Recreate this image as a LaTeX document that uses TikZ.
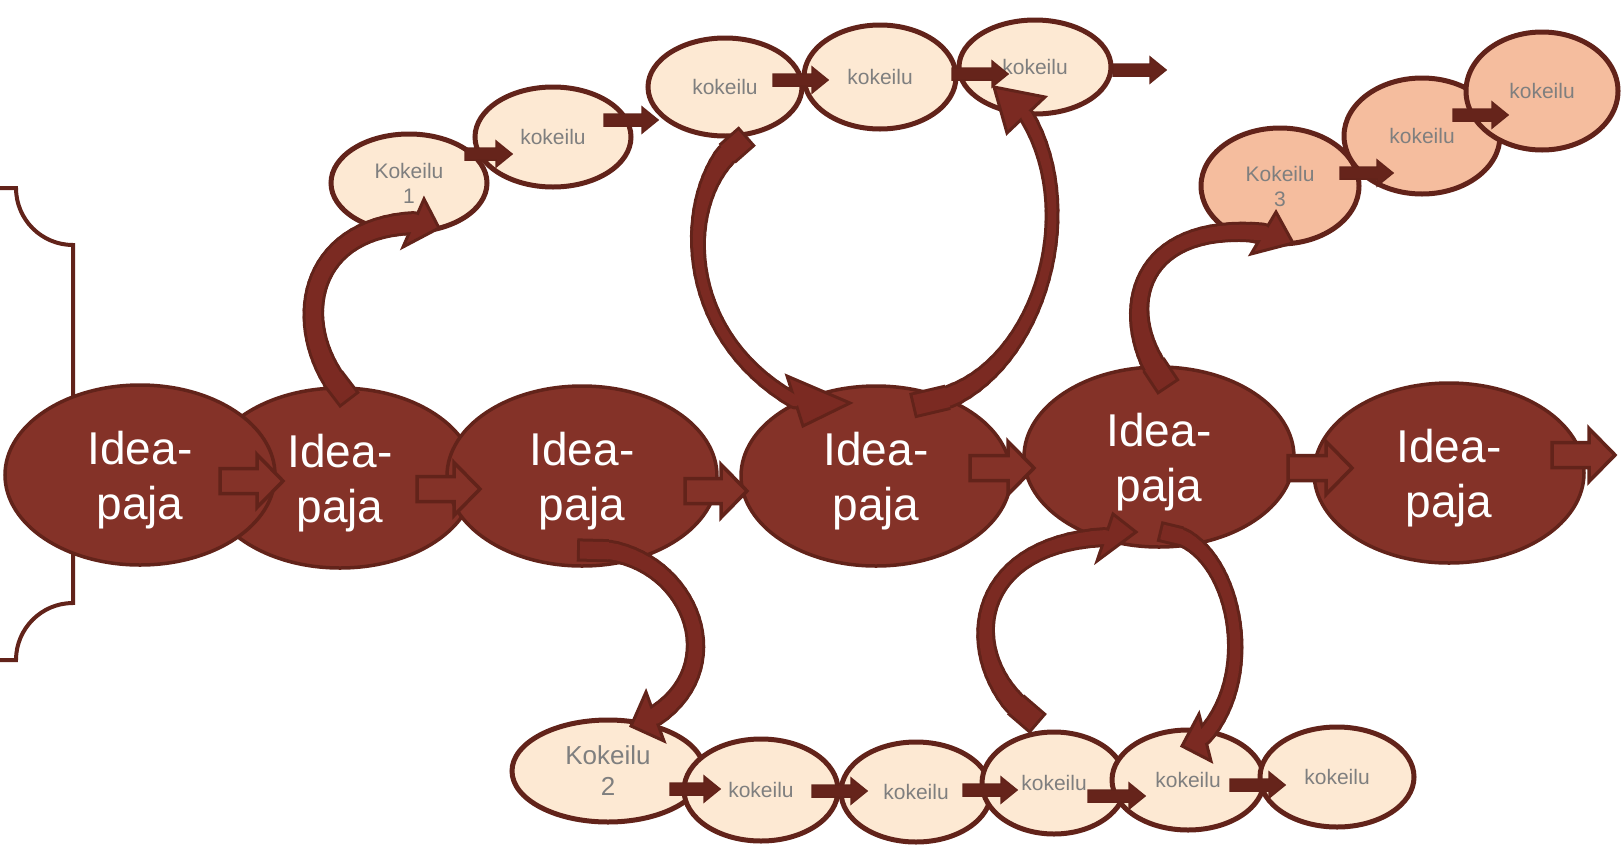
\documentclass[tikz,border=0pt]{standalone}
\usepackage{fontspec}
\setmainfont{Liberation Sans}
\usetikzlibrary{shapes.geometric}
\definecolor{ebrown}{HTML}{843228}
\definecolor{dbrown}{HTML}{62231A}
\definecolor{abrown}{HTML}{7B2A22}
\definecolor{sbrown}{HTML}{66241B}
\definecolor{peach}{HTML}{FDE9D3}
\definecolor{salmon}{HTML}{F5BD9E}
\definecolor{kgray}{HTML}{7F7F7F}
\newcommand{\blockarr}[7]{\draw[#1] (#2,#4-#5) -- (#3-#7,#4-#5) -- (#3-#7,#4-#6) -- (#3,#4) -- (#3-#7,#4+#6) -- (#3-#7,#4+#5) -- (#2,#4+#5) -- cycle;}
% tapered curved block arrow: tail, control 1, control 2, end, tail width, middle width, barb 1, tip, barb 2
\newcommand{\carr}[9]{%
  \coordinate (cp0) at #1; \coordinate (cp1) at #2; \coordinate (cp2) at #3; \coordinate (cp3) at #4;
  \path (cp0) .. controls (cp1) and (cp2) .. (cp3) coordinate[pos=0.1] (cqt);
  \pgfmathsetmacro\wt{#6+(#5-#6)*0.95^3}
  \draw[cout, line width=\wt pt+6pt, shorten <=-3pt] (cp0) -- (cqt);
  \foreach \k [evaluate=\k as \ta using 0.07+0.03*\k, evaluate=\k as \tb using 0.1+0.03*\k, evaluate=\k as \ww using #6+(#5-#6)*(0.915-0.03*\k)^3+4*(0.085+0.03*\k)^3] in {1,...,30} {
    \path (cp0) .. controls (cp1) and (cp2) .. (cp3) coordinate[pos=\ta] (cqa) coordinate[pos=\tb] (cqb);
    \draw[cout, line width=\ww pt+6pt, line cap=round] (cqa) -- (cqb);}
  \draw[chead] #7 -- #8 -- #9 -- cycle;
  \draw[cin, line width=\wt pt] (cp0) -- (cqt);
  \foreach \k [evaluate=\k as \ta using 0.07+0.03*\k, evaluate=\k as \tb using 0.1+0.03*\k, evaluate=\k as \ww using #6+(#5-#6)*(0.915-0.03*\k)^3+4*(0.085+0.03*\k)^3] in {1,...,30} {
    \path (cp0) .. controls (cp1) and (cp2) .. (cp3) coordinate[pos=\ta] (cqa) coordinate[pos=\tb] (cqb);
    \draw[cin, line width=\ww pt, line cap=round] (cqa) -- (cqb);}
}
\begin{document}
\begin{tikzpicture}[x=1pt, y=-1pt,
  idea/.style={ellipse, fill=ebrown, draw=dbrown, line width=3.5pt, minimum width=270pt, minimum height=180pt, inner sep=0pt},
  ideatext/.style={text=white, align=center, font=\fontsize{46}{55}\selectfont, inner sep=0pt},
  kok/.style={ellipse, fill=peach, draw=dbrown, line width=5pt, inner sep=0pt, text=kgray, align=center, font=\fontsize{21}{25}\selectfont},
  koks/.style={kok, fill=salmon},
  bigarr/.style={fill=ebrown, draw=dbrown, line width=3.5pt},
  smallarr/.style={fill=sbrown, draw=dbrown, line width=1.5pt},
  cout/.style={draw=dbrown},
  cin/.style={draw=abrown},
  chead/.style={fill=abrown, draw=dbrown, line width=3pt, line join=miter},
  bracket/.style={draw=dbrown, line width=4pt}
]
\useasboundingbox (0,0) rectangle (1623,844);
% bracket
\draw[bracket] (0,188) -- (16,188) .. controls (16,219.5) and (41.5,245) .. (73,245) -- (73,603) .. controls (41.5,603) and (16,628.5) .. (16,660) -- (0,660);
% big ellipses
\node[idea] (E2) at (340,478) {};
\node[idea] (E1) at (140,475) {};
\node[idea] (E3) at (582,476) {};
\node[idea] (E4) at (876,476) {};
\node[idea] (E5) at (1159,457) {};
\node[idea] (E6) at (1449,473) {};
\node[ideatext] (T1) at ([yshift=-5pt]E1.center) {Idea-\\paja};
\node[ideatext] (T2) at ([yshift=-5pt]E2.center) {Idea-\\paja};
\node[ideatext] (T3) at ([yshift=-5pt]E3.center) {Idea-\\paja};
\node[ideatext] (T4) at ([yshift=-5pt]E4.center) {Idea-\\paja};
\node[ideatext] (T5) at ([yshift=-5pt]E5.center) {Idea-\\paja};
\node[ideatext] (T6) at ([yshift=-5pt]E6.center) {Idea-\\paja};
% block arrows between big ellipses
\blockarr{bigarr}{220}{283}{481}{12.5}{26.5}{26}
\blockarr{bigarr}{417}{480}{489}{12.5}{26.5}{26}
\blockarr{bigarr}{685}{747}{491}{12.5}{26.5}{26}
\blockarr{bigarr}{970}{1034}{468}{12.5}{26.5}{26}
\blockarr{bigarr}{1288}{1352}{468}{12.5}{26.5}{26}
\blockarr{bigarr}{1552}{1615}{455}{12.5}{26.5}{26}
% top chain
\node[kok, minimum width=156pt, minimum height=98pt] (K1) at (409,183) {Kokeilu\\1};
\node[kok, minimum width=156pt, minimum height=100pt] (K1b) at (553,137) {kokeilu};
\node[kok, minimum width=154pt, minimum height=98pt] (K1c) at (725,87) {kokeilu};
\node[kok, minimum width=152pt, minimum height=104pt] (K1d) at (880,77) {kokeilu};
\node[kok, minimum width=152pt, minimum height=94pt] (K1e) at (1035,67) {kokeilu};
% bottom chain
\node[kok, minimum width=192pt, minimum height=102pt, font=\fontsize{26}{31}\selectfont] (K2) at (608,771) {Kokeilu\\2};
\node[kok, minimum width=154pt, minimum height=102pt] (K2b) at (761,790) {kokeilu};
\node[kok, minimum width=150pt, minimum height=100pt] (K2c) at (916,792) {kokeilu};
\node[kok, minimum width=144pt, minimum height=102pt] (K2d) at (1054,783) {kokeilu};
\node[kok, minimum width=152pt, minimum height=100pt] (K2e) at (1188,780) {kokeilu};
\node[kok, minimum width=154pt, minimum height=100pt] (K2f) at (1337,777) {kokeilu};
% right chain
\node[koks, minimum width=158pt, minimum height=116pt] (K3) at (1280,186) {Kokeilu\\3};
\node[koks, minimum width=156pt, minimum height=116pt] (K3b) at (1422,136) {kokeilu};
\node[koks, minimum width=152pt, minimum height=118pt] (K3c) at (1542,91) {kokeilu};
% small arrows
\blockarr{smallarr}{465}{512}{154}{6}{13}{16}
\blockarr{smallarr}{604}{658}{120}{6}{13}{16}
\blockarr{smallarr}{773}{828}{80}{6}{13}{16}
\blockarr{smallarr}{952}{1008}{74}{6}{13}{16}
\blockarr{smallarr}{1113}{1166}{70}{6}{13}{16}
\blockarr{smallarr}{1340}{1393}{173}{6}{13}{16}
\blockarr{smallarr}{1453}{1508}{115}{6}{13}{16}
\blockarr{smallarr}{670}{720}{789}{6}{13}{16}
\blockarr{smallarr}{812}{867}{791}{6}{13}{16}
\blockarr{smallarr}{963}{1017}{790}{6}{13}{16}
\blockarr{smallarr}{1088}{1145}{796}{6}{13}{16}
\blockarr{smallarr}{1230}{1285}{785}{6}{13}{16}
% curved arrows
\carr{(348,398)}{(290,335)}{(300,228)}{(414,223)}{20}{14}{(424,199)}{(439,228)}{(403,247)}
\carr{(745,138)}{(680,180)}{(670,330)}{(795,401)}{22}{7}{(787,376)}{(850,403)}{(803,426)}
\carr{(915,405)}{(1030,395)}{(1090,220)}{(1026,115)}{22}{7}{(1007,133)}{(994,87)}{(1045,97)}
\carr{(580,550)}{(680,540)}{(740,660)}{(655,716)}{18}{12}{(646,692)}{(631,726)}{(664,741)}
\carr{(1036,722)}{(960,670)}{(960,545)}{(1105,537)}{22}{10}{(1113,514)}{(1136,532)}{(1097,561)}
\carr{(1162,532)}{(1230,535)}{(1265,670)}{(1203,737)}{16}{9}{(1199,714)}{(1182,746)}{(1211,761)}
\carr{(1167,385)}{(1115,320)}{(1130,220)}{(1263,233)}{22}{11}{(1276,212)}{(1293,243)}{(1251,254)}
\end{tikzpicture}
\end{document}
